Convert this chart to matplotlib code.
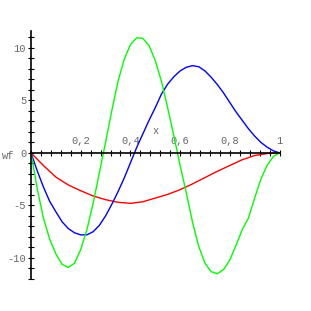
import numpy as np
import matplotlib
matplotlib.use("Agg")
import matplotlib.pyplot as plt
from matplotlib.ticker import MultipleLocator

# sample positions
x_fine = np.linspace(0, 1, 41)
x_red = np.linspace(0, 1, 21)

red_wf = [0, -1.2, -2.3, -3.05, -3.6, -4.1, -4.45, -4.7, -4.8, -4.65, -4.3,
          -3.95, -3.5, -2.95, -2.35, -1.75, -1.2, -0.65, -0.25, -0.06, 0]

blue_wf = [0, -1.7, -3.25, -4.6, -5.6, -6.55, -7.2, -7.6, -7.8, -7.8, -7.5,
           -6.9, -6.0, -4.9, -3.7, -2.4, -0.95, 0.5, 1.8, 3.1, 4.3,
           5.6, 6.55, 7.25, 7.8, 8.15, 8.3, 8.2, 7.8, 7.2, 6.5,
           5.7, 4.8, 3.9, 3.1, 2.3, 1.6, 1.0, 0.55, 0.2, 0]

green_wf = [0, -3.4, -6.2, -8.2, -9.6, -10.6, -10.9, -10.5, -9.2, -7.3, -4.8,
            -1.9, 1.0, 4.0, 6.8, 8.9, 10.3, 10.95, 10.9, 10.2, 8.8,
            6.8, 4.3, 1.6, -1.2, -3.8, -6.6, -8.9, -10.5, -11.3, -11.5,
            -11.1, -10.2, -8.8, -7.3, -6.2, -4.3, -2.5, -1.2, -0.35, 0]

x_major = [0.2, 0.4, 0.6, 0.8, 1.0]
x_labels = ["0,2", "0,4", "0,6", "0,8", "1"]
y_major = [-10, -5, 0, 5, 10]
y_labels = ["-10", "-5", "0", "5", "10"]

W, H = 311, 311
fig = plt.figure(figsize=(W / 100, H / 100), dpi=100)
ax = fig.add_axes([31 / W, (H - 279) / H, 248.5 / W, 248 / H])
ax.set_xlim(0, 1)
ax.set_ylim(-12.0, 11.6)

ax.plot(x_red, red_wf, color="#ff0000", lw=1.0, clip_on=False)
ax.plot(x_fine, blue_wf, color="#0000ff", lw=1.0, clip_on=False)
ax.plot(x_fine, green_wf, color="#00ff00", lw=1.0, clip_on=False)

for s in ["top", "right"]:
    ax.spines[s].set_visible(False)
ax.spines["left"].set_position(("data", 0))
ax.spines["bottom"].set_position(("data", 0))
ax.spines["left"].set_linewidth(1.2)
ax.spines["bottom"].set_linewidth(1.2)

font = dict(family="Liberation Mono", size=7.5, color="#666666")

ax.set_xticks(x_major)
ax.set_xticklabels(x_labels, **font)
ax.xaxis.set_minor_locator(MultipleLocator(0.04))
ax.set_yticks(y_major)
ax.set_yticklabels(y_labels, **font)
ax.yaxis.set_minor_locator(MultipleLocator(1))
ax.tick_params(axis="x", which="both", direction="inout", length=5, width=0.8, pad=-15)
ax.tick_params(axis="y", which="both", direction="inout", length=5, width=0.8, pad=1)

ax.text(0.5, 1.6, "x", ha="center", va="bottom", **font)
ax.text(-0.068, -0.3, "wf", ha="right", va="center", **font)

fig.savefig("out.png", dpi=100)
